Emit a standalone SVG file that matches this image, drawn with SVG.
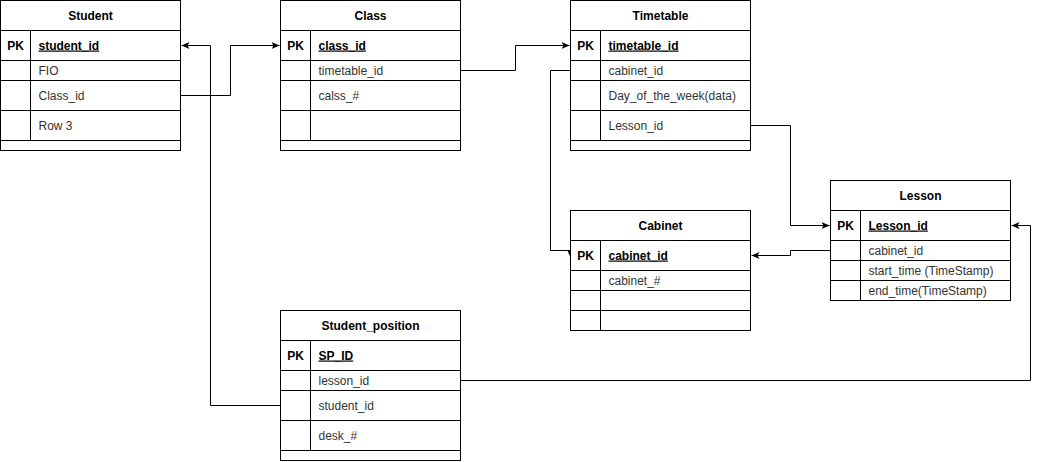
<svg xmlns="http://www.w3.org/2000/svg" width="1039" height="462" viewBox="0 0 1039 462">
<style>
.box{fill:#fff;stroke:#000;stroke-width:1}
.ln{stroke:#000;stroke-width:1;fill:none}
.hd{font-family:"Liberation Sans",Arial,sans-serif;font-size:12px;font-weight:bold;fill:#000;text-anchor:middle}
.pk{font-family:"Liberation Sans",Arial,sans-serif;font-size:12px;font-weight:bold;fill:#000;text-anchor:middle}
.key{font-family:"Liberation Sans",Arial,sans-serif;font-size:12px;font-weight:bold;fill:#000;text-decoration:underline}
.tx{font-family:"Liberation Sans",Arial,sans-serif;font-size:12px;fill:#333}
.cn{stroke:#000;stroke-width:1;fill:none;marker-end:url(#arr)}
</style>
<defs>
<marker id="arr" viewBox="0 0 8 8" refX="8" refY="4" markerWidth="8" markerHeight="8" markerUnits="userSpaceOnUse" orient="auto">
<path d="M0,0.5 L8,4 L0,7.5 L2,4 Z" fill="#000"/>
</marker>
</defs>
<rect width="1039" height="462" fill="#fff"/>
<g transform="translate(0.5,0.5)">
<g id="connectors">
<path class="cn" d="M180 95 L230 95 L230 45 L279 45"/>
<path class="cn" d="M280 405 L210 405 L210 45 L181 45"/>
<path class="cn" d="M460 70 L515 70 L515 45 L569 45"/>
<path class="cn" d="M570 70 L550 70 L550 250 L570 250 L570 257"/>
<path class="cn" d="M750 125 L790 125 L790 225 L829 225"/>
<path class="cn" d="M830 250 L790 250 L790 255 L751 255"/>
<path class="cn" d="M460 380 L1030 380 L1030 225 L1011 225"/>
</g>
<g id="student">
<rect class="box" x="0" y="0" width="180" height="150"/>
<path class="ln" d="M0 30H180M0 60H180M0 80H180M0 110H180M0 140H180M30 30V140"/>
<text class="hd" x="90" y="19">Student</text>
<text class="pk" x="15" y="49">PK</text>
<text class="key" x="38" y="49">student_id</text>
<text class="tx" x="38" y="74">FIO</text>
<text class="tx" x="38" y="99">Class_id</text>
<text class="tx" x="38" y="129">Row 3</text>
</g>
<g id="class">
<rect class="box" x="280" y="0" width="180" height="150"/>
<path class="ln" d="M280 30H460M280 60H460M280 80H460M280 110H460M280 140H460M310 30V140"/>
<text class="hd" x="370" y="19">Class</text>
<text class="pk" x="295" y="49">PK</text>
<text class="key" x="318" y="49">class_id</text>
<text class="tx" x="318" y="74">timetable_id</text>
<text class="tx" x="318" y="99">calss_#</text>
</g>
<g id="timetable">
<rect class="box" x="570" y="0" width="180" height="150"/>
<path class="ln" d="M570 30H750M570 60H750M570 80H750M570 110H750M570 140H750M600 30V140"/>
<text class="hd" x="660" y="19">Timetable</text>
<text class="pk" x="585" y="49">PK</text>
<text class="key" x="608" y="49">timetable_id</text>
<text class="tx" x="608" y="74">cabinet_id</text>
<text class="tx" x="608" y="99">Day_of_the_week(data)</text>
<text class="tx" x="608" y="129">Lesson_id</text>
</g>
<g id="cabinet">
<rect class="box" x="570" y="210" width="180" height="120"/>
<path class="ln" d="M570 240H750M570 270H750M570 290H750M570 310H750M600 240V330"/>
<text class="hd" x="660" y="229">Cabinet</text>
<text class="pk" x="585" y="259">PK</text>
<text class="key" x="608" y="259">cabinet_id</text>
<text class="tx" x="608" y="284">cabinet_#</text>
</g>
<g id="lesson">
<rect class="box" x="830" y="180" width="180" height="120"/>
<path class="ln" d="M830 210H1010M830 240H1010M830 260H1010M830 280H1010M860 210V300"/>
<text class="hd" x="920" y="199">Lesson</text>
<text class="pk" x="845" y="229">PK</text>
<text class="key" x="868" y="229">Lesson_id</text>
<text class="tx" x="868" y="254">cabinet_id</text>
<text class="tx" x="868" y="274">start_time (TimeStamp)</text>
<text class="tx" x="868" y="294">end_time(TimeStamp)</text>
</g>
<g id="student_position">
<rect class="box" x="280" y="310" width="180" height="150"/>
<path class="ln" d="M280 340H460M280 370H460M280 390H460M280 420H460M280 450H460M310 340V450"/>
<text class="hd" x="370" y="329">Student_position</text>
<text class="pk" x="295" y="359">PK</text>
<text class="key" x="318" y="359">SP_ID</text>
<text class="tx" x="318" y="384">lesson_id</text>
<text class="tx" x="318" y="409">student_id</text>
<text class="tx" x="318" y="439">desk_#</text>
</g>
</g>
</svg>
